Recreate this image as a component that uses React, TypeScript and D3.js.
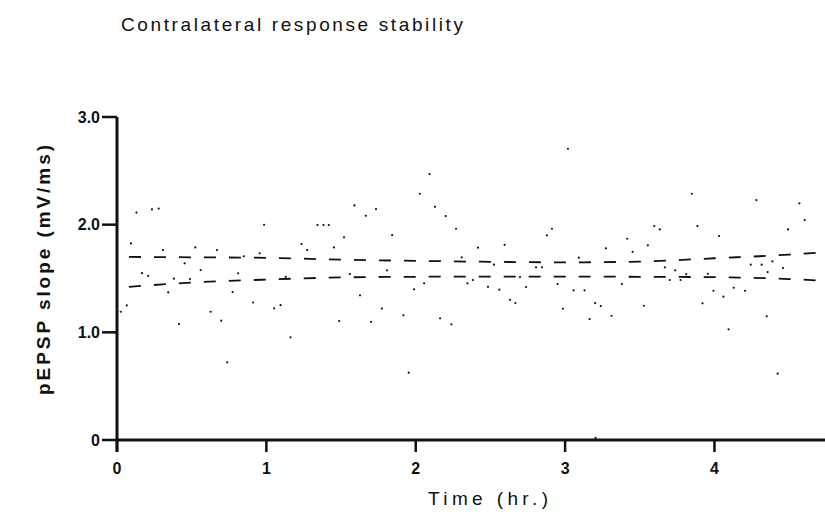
import React from "react";
import * as d3 from "d3";

const title = "Contralateral response stability";
const xLabel = "Time (hr.)";
const yLabel = "pEPSP slope (mV/ms)";

const xTicks = [0, 1, 2, 3, 4];
const yTicks = [0, 1, 2, 3];
const yTickLabels = ["0", "1.0", "2.0", "3.0"];

const times = [
  0.025, 0.065, 0.094, 0.13, 0.167, 0.209, 0.234, 0.279, 0.308, 0.343, 0.381, 0.415, 0.453, 0.488, 0.524, 0.56,
  0.627, 0.669, 0.698, 0.738, 0.774, 0.811, 0.849, 0.911, 0.955, 0.985, 1.052, 1.095, 1.13, 1.162, 1.235, 1.273,
  1.342, 1.383, 1.418, 1.452, 1.487, 1.52, 1.559, 1.59, 1.627, 1.666, 1.701, 1.734, 1.773, 1.808, 1.842, 1.918,
  1.953, 1.989, 2.027, 2.056, 2.092, 2.129, 2.163, 2.201, 2.239, 2.27, 2.308, 2.346, 2.383, 2.417, 2.484, 2.524,
  2.56, 2.595, 2.631, 2.667, 2.698, 2.738, 2.805, 2.845, 2.878, 2.912, 2.95, 2.985, 3.019, 3.057, 3.092, 3.13,
  3.164, 3.201, 3.204, 3.239, 3.273, 3.311, 3.38, 3.416, 3.452, 3.527, 3.554, 3.597, 3.634, 3.668, 3.701, 3.737,
  3.773, 3.811, 3.848, 3.886, 3.92, 3.955, 3.993, 4.031, 4.06, 4.094, 4.129, 4.205, 4.243, 4.281, 4.316, 4.35,
  4.356, 4.388, 4.423, 4.459, 4.493, 4.569, 4.604,
];
const slopes = [
  1.191, 1.25, 1.826, 2.112, 1.549, 1.525, 2.142, 2.149, 1.764, 1.371, 1.498, 1.077, 1.641, 1.495, 1.789, 1.578,
  1.191, 1.764, 1.108, 0.721, 1.374, 1.548, 1.706, 1.277, 1.734, 1.999, 1.223, 1.252, 1.516, 0.954, 1.82, 1.764,
  1.996, 1.996, 1.996, 1.789, 1.105, 1.882, 1.541, 2.179, 1.344, 2.083, 1.098, 2.145, 1.221, 1.576, 1.903, 1.158,
  0.625, 1.399, 2.287, 1.455, 2.47, 2.166, 1.13, 2.08, 1.074, 1.962, 1.697, 1.455, 1.486, 1.786, 1.423, 1.628,
  1.396, 1.813, 1.302, 1.272, 1.513, 1.421, 1.604, 1.604, 1.901, 1.962, 1.448, 1.219, 2.705, 1.39, 1.693, 1.39,
  1.123, 1.272, 0.019, 1.244, 1.78, 1.154, 1.448, 1.869, 1.748, 1.247, 1.808, 1.987, 1.956, 1.604, 1.486, 1.576,
  1.486, 1.541, 2.287, 1.987, 1.269, 1.544, 1.386, 1.894, 1.331, 1.028, 1.414, 1.386, 1.628, 2.228, 1.628, 1.149,
  1.56, 1.659, 0.616, 1.597, 1.956, 2.198, 2.043,
];

const fitTimes = [0.08, 0.5, 1.0, 1.5, 2.0, 2.5, 3.0, 3.5, 4.0, 4.5, 4.74];
const upperFit = [1.7, 1.697, 1.692, 1.675, 1.664, 1.655, 1.65, 1.657, 1.688, 1.722, 1.745];
const lowerFit = [1.423, 1.462, 1.49, 1.51, 1.516, 1.518, 1.518, 1.516, 1.512, 1.495, 1.478];

const W = 825;
const H = 527;

export default function App() {
  const x = d3.scaleLinear().domain([0, 4.74]).range([117, 825]);
  const y = d3.scaleLinear().domain([0, 3]).range([440, 117]);

  const line = d3
    .line<number>()
    .x((_, i) => x(fitTimes[i]))
    .y((d) => y(d))
    .curve(d3.curveMonotoneX);

  const font = "'Liberation Sans', Arial, Helvetica, sans-serif";

  return (
    <svg
      width={W}
      height={H}
      style={{ position: "absolute", left: 0, top: 0, background: "#fff" }}
      fontFamily={font}
    >
      <rect x={0} y={0} width={W} height={H} fill="#fff" />
      <text x={121} y={31} fontSize={19} fill="#111" textLength={342} lengthAdjust="spacing">
        {title}
      </text>

      {/* fit lines */}
      <path d={line(upperFit) || ""} fill="none" stroke="#111" strokeWidth={1.8} strokeDasharray="12,13" />
      <path d={line(lowerFit) || ""} fill="none" stroke="#111" strokeWidth={1.8} strokeDasharray="12,13" />

      {/* points */}
      {times.map((t, i) => (
        <circle key={i} cx={x(t)} cy={y(slopes[i])} r={1.1} fill="#111" />
      ))}

      {/* y axis */}
      <line x1={x(0)} x2={x(0)} y1={y(3)} y2={y(0) + 12} stroke="#111" strokeWidth={3} />
      {yTicks.map((v, i) => (
        <g key={v}>
          <line x1={x(0) - 15} x2={x(0)} y1={y(v)} y2={y(v)} stroke="#111" strokeWidth={2.5} />
          <text
            x={x(0) - 17}
            y={y(v)}
            dy="0.35em"
            textAnchor="end"
            fontSize={16}
            fontWeight="bold"
            fill="#111"
          >
            {yTickLabels[i]}
          </text>
        </g>
      ))}

      {/* x axis */}
      <line x1={x(0)} x2={825} y1={y(0)} y2={y(0)} stroke="#111" strokeWidth={3} />
      {xTicks.map((t) => (
        <g key={t}>
          <line x1={x(t)} x2={x(t)} y1={y(0)} y2={y(0) + 12} stroke="#111" strokeWidth={2.5} />
          <text x={x(t)} y={474} textAnchor="middle" fontSize={16} fontWeight="bold" fill="#111">
            {t}
          </text>
        </g>
      ))}

      <text x={488} y={505} textAnchor="middle" fontSize={19} fill="#111" textLength={120} lengthAdjust="spacing">
        {xLabel}
      </text>
      <text
        transform={`translate(50,${270}) rotate(-90)`}
        textAnchor="middle"
        fontSize={19}
        fontWeight="bold"
        fill="#111"
        textLength={250}
        lengthAdjust="spacing"
      >
        {yLabel}
      </text>
    </svg>
  );
}
